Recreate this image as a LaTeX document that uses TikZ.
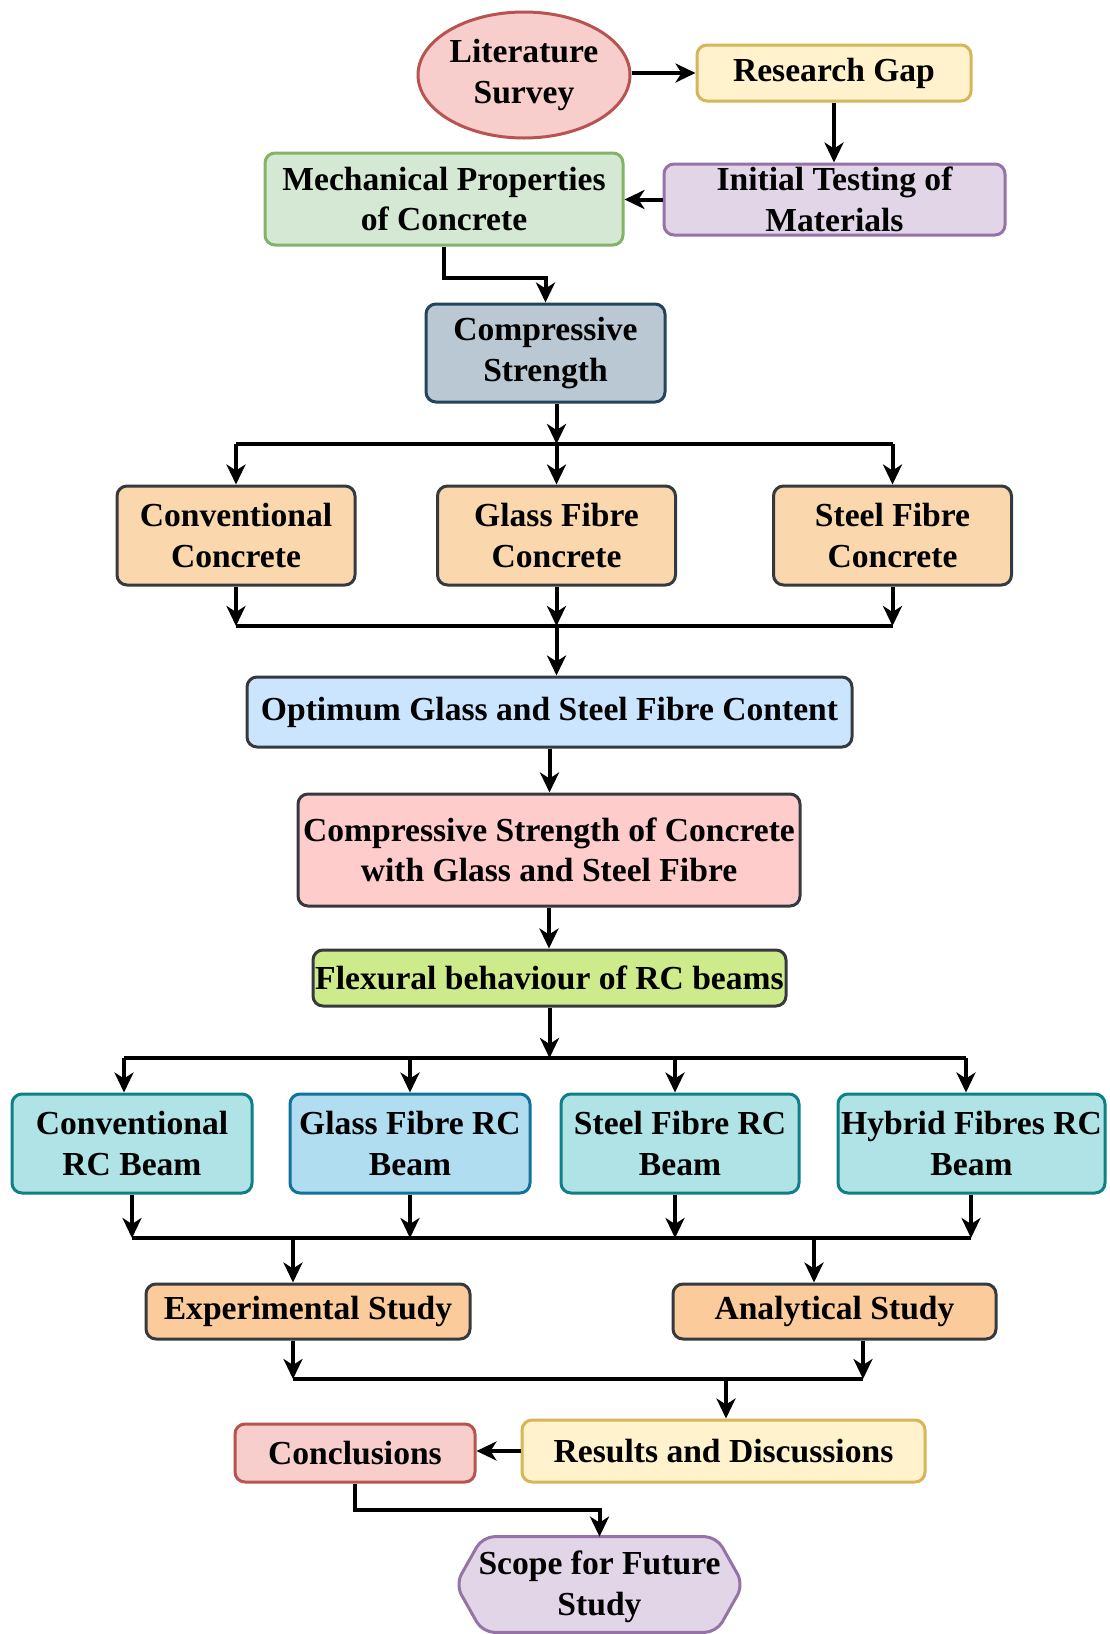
\documentclass[tikz,border=0pt]{standalone}
\usepackage{fontspec}
\setmainfont{Liberation Serif}
\usetikzlibrary{arrows.meta,shapes.geometric}
\definecolor{redF}{HTML}{F8CECC}\definecolor{redD}{HTML}{B85450}
\definecolor{yelF}{HTML}{FFF2CC}\definecolor{yelD}{HTML}{D6B656}
\definecolor{purF}{HTML}{E1D5E7}\definecolor{purD}{HTML}{9673A6}
\definecolor{grnF}{HTML}{D5E8D4}\definecolor{grnD}{HTML}{82B366}
\definecolor{slaF}{HTML}{BAC8D3}\definecolor{slaD}{HTML}{23445D}
\definecolor{orgF}{HTML}{FAD7AC}\definecolor{orgG}{HTML}{FCCB9B}
\definecolor{dkD}{HTML}{36393D}
\definecolor{bluF}{HTML}{CCE5FF}
\definecolor{pnkF}{HTML}{FFCCCC}
\definecolor{limF}{HTML}{CDEB8B}
\definecolor{tealF}{HTML}{B0E3E6}\definecolor{tealD}{HTML}{0E8088}
\definecolor{skyF}{HTML}{B1DDF0}\definecolor{skyD}{HTML}{10739E}
\begin{document}
\begin{tikzpicture}[x=0.5pt,y=-0.5pt,
  txt/.style={align=center, inner sep=0pt, font=\bfseries\fontsize{16.8}{20.3}\selectfont},
  base/.style={txt, draw, line width=1.5pt, rounded corners=5pt},
  arr/.style={line width=2pt, -{Stealth[length=10pt,width=9.5pt,inset=3pt]}},
  ln/.style={line width=2pt},
  orange/.style={base, fill=orgF, draw=dkD, minimum width=119pt, minimum height=49.5pt},
  beam/.style={base, fill=tealF, draw=tealD, minimum height=49.5pt}]
\useasboundingbox (0,0) rectangle (1109,1634);
\fill[white] (0,0) rectangle (1109,1634);

\node[txt, ellipse, draw, line width=1.5pt, fill=redF, draw=redD, minimum width=106pt, minimum height=63pt] (lit) at (524,75) {Literature\\Survey};
\node[base, fill=yelF, draw=yelD, minimum width=137pt, minimum height=28pt] (gap) at (834,73) {Research Gap};
\node[base, fill=purF, draw=purD, minimum width=170.5pt, minimum height=35.5pt] (init) at (834.5,199.5) {Initial Testing of\\Materials};
\node[base, fill=grnF, draw=grnD, minimum width=179pt, minimum height=46pt] (mech) at (444,199) {Mechanical Properties\\of Concrete};
\node[base, fill=slaF, draw=slaD, minimum width=119.5pt, minimum height=49pt] (cs) at (545.5,353) {Compressive\\Strength};
\node[orange] (cc) at (236,535.5) {Conventional\\Concrete};
\node[orange] (gfc) at (556.5,535.5) {Glass Fibre\\Concrete};
\node[orange] (sfc) at (892.5,535.5) {Steel Fibre\\Concrete};
\node[base, fill=bluF, draw=dkD, minimum width=302.5pt, minimum height=35pt] (opt) at (549.5,712) {Optimum Glass and Steel Fibre Content};
\node[base, fill=pnkF, draw=dkD, minimum width=251pt, minimum height=56pt] (csc) at (549,850) {Compressive Strength of Concrete\\with Glass and Steel Fibre};
\node[base, fill=limF, draw=dkD, minimum width=236.5pt, minimum height=28pt] (flex) at (549.5,978) {Flexural behaviour of RC beams};
\node[beam, minimum width=120pt] (crc) at (132,1143.5) {Conventional\\RC Beam};
\node[beam, fill=skyF, draw=skyD, minimum width=120pt] (gfrc) at (410,1143.5) {Glass Fibre RC\\Beam};
\node[beam, minimum width=119pt] (sfrc) at (680,1143.5) {Steel Fibre RC\\Beam};
\node[beam, minimum width=133.5pt] (hfrc) at (971.5,1143.5) {Hybrid Fibres RC\\Beam};
\node[base, fill=orgG, draw=dkD, minimum width=162pt, minimum height=27.5pt] (exp) at (308,1311.5) {Experimental Study};
\node[base, fill=orgG, draw=dkD, minimum width=161.5pt, minimum height=27.5pt] (ana) at (834.5,1311.5) {Analytical Study};
\node[base, fill=yelF, draw=yelD, minimum width=201.5pt, minimum height=31pt] (res) at (723.5,1451) {Results and Discussions};
\node[base, fill=redF, draw=redD, minimum width=120pt, minimum height=29pt] (conc) at (355,1453) {Conclusions};
\node[inner sep=0pt, minimum width=143.5pt, minimum height=47.5pt] (scope) at (599.5,1584.5) {};
\draw[fill=purF, draw=purD, line width=1.5pt, rounded corners=6pt]
  ([xshift=13.5pt]scope.north west) -- ([xshift=-13.5pt]scope.north east) -- (scope.east)
  -- ([xshift=-13.5pt]scope.south east) -- ([xshift=13.5pt]scope.south west) -- (scope.west) -- cycle;
\node[txt] (scopetext) at ([yshift=-1pt]scope.center) {Scope for Future\\Study};

% connectors
\draw[arr] (lit.east |- gap.west) -- (gap.west);
\draw[arr] (gap.south) -- (gap.south |- init.north);
\draw[arr] (init.west) -- (init.west -| mech.east);
\draw[arr] (mech.south) -- ++(0,31) -| (cs.north);

\coordinate (bus1) at (556.5,444);
\draw[arr] (cs.south -| gfc.north) -- (bus1);
\draw[ln] (cc.north |- bus1) -- (sfc.north |- bus1);
\draw[arr] (cc.north |- bus1) -- (cc.north);
\draw[arr] (bus1) -- (gfc.north);
\draw[arr] (sfc.north |- bus1) -- (sfc.north);

\coordinate (bus2) at (556.5,626);
\draw[arr] (cc.south) -- (cc.south |- bus2);
\draw[arr] (gfc.south) -- (bus2);
\draw[arr] (sfc.south) -- (sfc.south |- bus2);
\draw[ln] (cc.south |- bus2) -- (sfc.south |- bus2);
\draw[arr] (bus2) -- (bus2 |- opt.north);

\draw[arr] (opt.south) -- (opt.south |- csc.north);
\draw[arr] (csc.south) -- (csc.south |- flex.north);

\coordinate (bus3) at (549.5,1058);
\coordinate (b3a) at (124,1058);
\coordinate (b3d) at (966,1058);
\draw[arr] (flex.south) -- (bus3);
\draw[ln] (b3a) -- (b3d);
\draw[arr] (b3a) -- (b3a |- crc.north);
\draw[arr] (gfrc.north |- bus3) -- (gfrc.north);
\draw[arr] ([xshift=-2.5pt]sfrc.north |- bus3) -- ([xshift=-2.5pt]sfrc.north);
\draw[arr] (b3d) -- (b3d |- hfrc.north);

\coordinate (b4a) at (132,1238);
\coordinate (b4d) at (971,1238);
\draw[arr] (crc.south) -- (crc.south |- b4a);
\draw[arr] (gfrc.south) -- (gfrc.south |- b4a);
\draw[arr] ([xshift=-2.5pt]sfrc.south) -- ([xshift=-2.5pt]sfrc.south |- b4a);
\draw[arr] (b4d |- hfrc.south) -- (b4d);
\draw[ln] (b4a) -- (b4d);
\coordinate (b4e) at (293,1238);
\coordinate (b4f) at (814,1238);
\draw[arr] (b4e) -- (b4e |- exp.north);
\draw[arr] (b4f) -- (b4f |- ana.north);

\coordinate (b5a) at (293,1379);
\coordinate (b5b) at (863,1379);
\coordinate (b5c) at (726,1379);
\draw[arr] (b5a |- exp.south) -- (b5a);
\draw[arr] (b5b |- ana.south) -- (b5b);
\draw[ln] (b5a) -- (b5b);
\draw[arr] (b5c) -- (b5c |- res.north);

\draw[arr] (res.west) -- (res.west -| conc.east);
\draw[arr] (conc.south) -- ++(0,26) -| (scope.north);
\end{tikzpicture}
\end{document}
